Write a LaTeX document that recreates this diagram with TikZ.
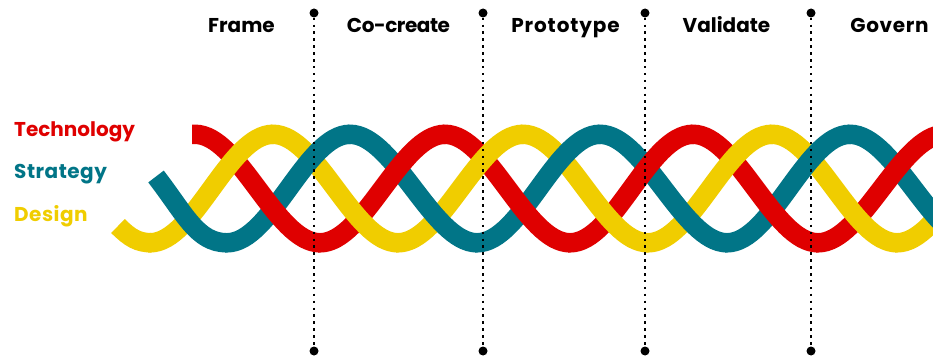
\documentclass[tikz,border=0pt]{standalone}
\usepackage{fontspec}
\setmainfont{Poppins}
\definecolor{techred}{HTML}{DF0000}
\definecolor{strategyteal}{HTML}{017587}
\definecolor{designyellow}{HTML}{F0CD00}
\tikzset{
  strand/.style={line width=19.5pt,line cap=butt},
  phase/.style={font=\fontsize{20}{24}\selectfont\bfseries,text=black,inner sep=0pt,anchor=base},
  strandlabel/.style={font=\fontsize{20}{24}\selectfont\bfseries,inner sep=0pt,anchor=base west},
  pin/.style={circle,fill=black,inner sep=0pt,minimum size=9pt},
  gate/.style={line width=2.5pt,dash pattern=on 2.5pt off 4.4pt,black}
}
\newcommand{\ytop}{134.3}
\newcommand{\ybot}{242.8}
\newcommand{\wave}[4]{% colour, start x, end x, start is peak (p) / trough (t)
  \if#4p
    \draw[strand,#1] (#2-2,\ytop) -- (#2,\ytop) .. controls (#2+44,\ytop) and (#3-44,\ybot) .. (#3,\ybot);
  \else
    \draw[strand,#1] (#2-2,\ybot) -- (#2,\ybot) .. controls (#2+44,\ybot) and (#3-44,\ytop) .. (#3,\ytop);
  \fi}
\begin{document}
\begin{tikzpicture}[x=1pt,y=-1pt]
\useasboundingbox (0,0) rectangle (933,358);
\begin{scope}
\clip (0,0) rectangle (933,358);
\wave{designyellow}{897}{1022}{t}
\wave{strategyteal}{850}{977}{p}
\wave{techred}{818}{945}{t}
\wave{designyellow}{772}{897}{p}
\wave{strategyteal}{727}{850}{t}
\wave{techred}{693}{818}{p}
\wave{designyellow}{648}{772}{t}
\wave{strategyteal}{600}{727}{p}
\wave{techred}{570}{693}{t}
\wave{designyellow}{523}{648}{p}
\wave{strategyteal}{477}{600}{t}
\wave{techred}{445}{570}{p}
\wave{designyellow}{398}{523}{t}
\wave{strategyteal}{350}{477}{p}
\wave{techred}{320}{445}{t}
\wave{designyellow}{273}{398}{p}
\wave{strategyteal}{227}{350}{t}
\draw[strand,techred] (192,\ytop) -- (195,\ytop) .. controls (239,\ytop) and (276,\ybot) .. (320,\ybot);
\wave{designyellow}{150}{273}{t}
\draw[strand,strategyteal] (156,176.5) .. controls (185,214) and (197,\ybot) .. (227,\ybot);
\draw[strand,designyellow] (118,226) .. controls (130,238) and (138,\ybot) .. (152,\ybot);
\end{scope}
\node[pin] (a1) at (314,13) {};
\node[pin] (a2) at (314,351) {};
\node[pin] (b1) at (483,13) {};
\node[pin] (b2) at (483,351) {};
\node[pin] (c1) at (645,13) {};
\node[pin] (c2) at (645,351) {};
\node[pin] (d1) at (811,13) {};
\node[pin] (d2) at (811,351) {};
\draw[gate] (a1) -- (a2);
\draw[gate] (b1) -- (b2);
\draw[gate] (c1) -- (c2);
\draw[gate] (d1) -- (d2);
\node[phase] (frame) at (241.5,33) {Frame};
\node[phase] (cocreate) at (398.5,33) {\addfontfeature{LetterSpace=-2.2}Co-create};
\node[phase] (prototype) at (565.5,33) {\addfontfeature{LetterSpace=4.5}Prototype};
\node[phase] (validate) at (726.5,33) {Validate};
\node[phase] (govern) at (889.5,33) {\addfontfeature{LetterSpace=3.3}Govern};
\node[strandlabel,text=techred] (technology) at (14,137) {Technology};
\node[strandlabel,text=strategyteal] (strategy) at (14,178.5) {\addfontfeature{LetterSpace=2.5}Strategy};
\node[strandlabel,text=designyellow] (design) at (14,221.5) {\addfontfeature{LetterSpace=2.5}Design};
\end{tikzpicture}
\end{document}
